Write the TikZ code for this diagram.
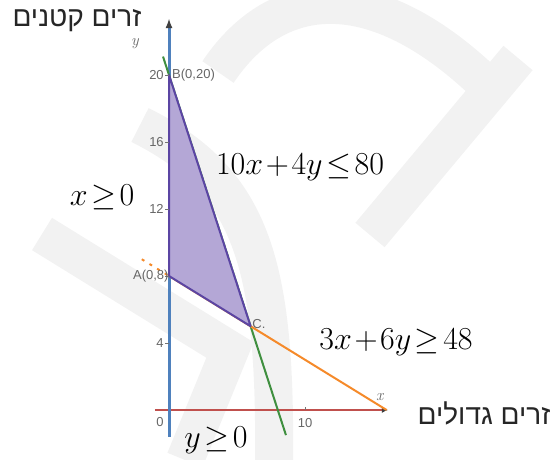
\RequirePackage{fix-cm}
\documentclass[tikz,border=0pt]{standalone}
\usepackage{fontspec}
\usepackage{xcolor}
\usepackage{tikz}
\usetikzlibrary{arrows.meta}
\TeXXeTstate=1
\newfontfamily\hebfont[Script=Hebrew]{Liberation Sans}
\newfontfamily\lblfont{Liberation Sans}
\definecolor{axisblue}{HTML}{4F81BD}
\definecolor{axisred}{HTML}{C0504D}
\definecolor{linegreen}{HTML}{3F8F3F}
\definecolor{lineorange}{HTML}{F58A2A}
\definecolor{regionfill}{HTML}{B4A7D6}
\definecolor{regionedge}{HTML}{5B45A3}
\definecolor{wm}{gray}{0.95}
\newcommand{\ineqfont}{\fontsize{32}{32}\selectfont\thickmuskip=2mu\medmuskip=1.5mu}
\tikzstyle{wmark} = [draw=wm, line width=38pt, line join=miter]
\tikzstyle{yaxis} = [axisblue, line width=3pt, -{Latex[length=10pt,width=7pt,color=black!75]}]
\tikzstyle{xaxis} = [axisred, line width=2.6pt, -{Latex[length=6pt,width=6pt,color=black!75]}]
\tikzstyle{greenline} = [linegreen, line width=2pt]
\tikzstyle{orangeline} = [lineorange, line width=2pt]
\tikzstyle{region} = [fill=regionfill, draw=regionedge, line width=2pt, line join=round]
\tikzstyle{tick} = [black!55, line width=0.8pt]
\tikzstyle{ticklbl} = [font=\lblfont\fontsize{13}{13}\selectfont, text=black!60, inner sep=1pt]
\tikzstyle{axlbl} = [font=\fontsize{16}{16}\selectfont\itshape, text=black!60, inner sep=0pt]
\tikzstyle{ineq} = [font=\ineqfont, inner sep=0pt]
\tikzstyle{heblbl} = [font=\hebfont\fontsize{28}{28}\selectfont, text=black!85, inner sep=0pt]
\begin{document}
\begin{tikzpicture}[x=1pt, y=1pt]
\useasboundingbox (0,0) rectangle (551,460);
% watermark
\draw[wmark] (218,388) .. controls (280,480) and (380,480) .. (490,372);
\draw[wmark] (518,402) -- (370,225);
\draw[wmark] (42,226) -- (230,110) -- (185,0);
\draw[wmark] (140,335) .. controls (250,280) and (276,200) .. (274,0);

\begin{scope}[shift={(169,50)}, x=13.6pt, y=16.75pt]
\coordinate (O) at (0,0);
\coordinate (A) at (0,8);
\coordinate (B) at (0,20);
\coordinate (C) at (6,5);
\coordinate (ybot) at (0,-1.6);
\coordinate (ytop) at (0,23.4);
\coordinate (xleft) at (-1.03,0);
\coordinate (xright) at (16.1,0);
\coordinate (gtop) at (-0.44,21.1);
\coordinate (gbot) at (8.6,-1.5);
\coordinate (oleft) at (-2,9);
\coordinate (oright) at (16,0);

\draw[xaxis] (xleft) -- (xright);
\draw[yaxis] (ybot) -- (ytop);
\draw[greenline] (gtop) -- (gbot);
\draw[orangeline] (A) -- (oright);
\draw[orangeline, dash pattern=on 3pt off 6pt] (oleft) -- (A);
\filldraw[region] (A) -- (B) -- (C) -- cycle;

% ticks
\foreach \t in {4,8,12,16,20}
    \draw[tick] (0,\t) -- ++(-4pt,0);
\draw[tick] (10,0) -- ++(0,3pt);
\foreach \t in {4,12,16,20}
    \node[ticklbl, anchor=east] (t\t) at (-0.3,\t) {\t};
\node[ticklbl] (t0) at (-0.66,-0.72) {0};
\node[ticklbl] (t10) at (10,-0.75) {10};

% points
\node[ticklbl, anchor=west] (Blbl) at (0.15,20) {B(0,20)};
\node[ticklbl, anchor=east] (Albl) at (0.05,8) {A(0,8)};
\node[ticklbl, anchor=west] (Clbl) at (6.05,5.15) {C.};
\node[axlbl] (ylet) at (-2.5,21.9) {y};
\node[axlbl] (xlet) at (15.5,0.75) {x};
\end{scope}

\node[ineq] (cons1) at (300,293) {$10x+4y\le80$};
\node[ineq] (cons2) at (396,118) {$3x+6y\ge48$};
\node[ineq] (xpos) at (102,263) {$x\ge0$};
\node[ineq] (ypos) at (216,20) {$y\ge0$};

\node[heblbl] (ylbl) at (77,439) {\beginR זרים קטנים\endR};
\node[heblbl] (xlbl) at (484,47) {\beginR זרים גדולים\endR};
\end{tikzpicture}
\end{document}
